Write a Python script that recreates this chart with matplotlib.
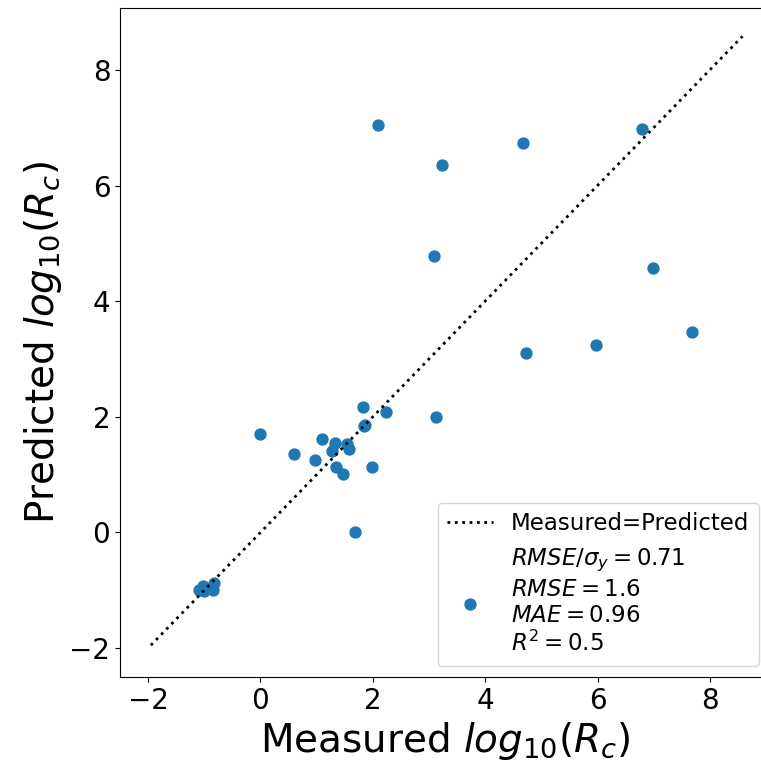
import matplotlib
matplotlib.use("Agg")
import matplotlib.pyplot as plt
import numpy as np

measured = [-0.01, 0.60, 0.97, 1.09, 1.32, 1.27, 1.54, 1.58, 1.35, 1.47, 1.82, 1.84, 1.86,
            2.24, 1.99, 1.69, 3.13,
            -1.10, -1.03, -1.00, -0.82, -0.85,
            2.09, 3.24, 4.68, 6.79, 3.09, 6.99, 4.72, 5.98, 7.69]
predicted = [1.70, 1.36, 1.26, 1.62, 1.55, 1.40, 1.53, 1.44, 1.13, 1.01, 2.17, 1.84, 1.86,
             2.09, 1.13, 0.00, 2.00,
             -0.99, -0.92, -1.01, -0.88, -1.00,
             7.05, 6.35, 6.73, 6.98, 4.78, 4.57, 3.10, 3.24, 3.47]
line_range = [-1.95, 8.58]
stats_label = "$RMSE/\\sigma_y = 0.71$\n$RMSE = 1.6$\n$MAE = 0.96$\n$R^2 = 0.5$"

fig = plt.figure(figsize=(7.61, 7.71), dpi=100)
ax = fig.add_axes([120/761, 1-677/771, 650/761, 669/771])
ax.plot(line_range, line_range, 'k:', lw=2, label="Measured=Predicted")
ax.scatter(measured, predicted, s=62, color='#1f77b4', label=stats_label)
ax.set_xlim(-2.50, 9.07)
ax.set_ylim(-2.50, 9.07)
ax.set_xticks([-2, 0, 2, 4, 6, 8])
ax.set_yticks([-2, 0, 2, 4, 6, 8])
ax.tick_params(labelsize=20)
ax.set_xlabel("Measured $log_{10}(R_c)$", fontsize=28)
ax.set_ylabel("Predicted $log_{10}(R_c)$", fontsize=28)
ax.legend(loc='lower right', fontsize=16.5)
fig.savefig("out.png", dpi=100)
